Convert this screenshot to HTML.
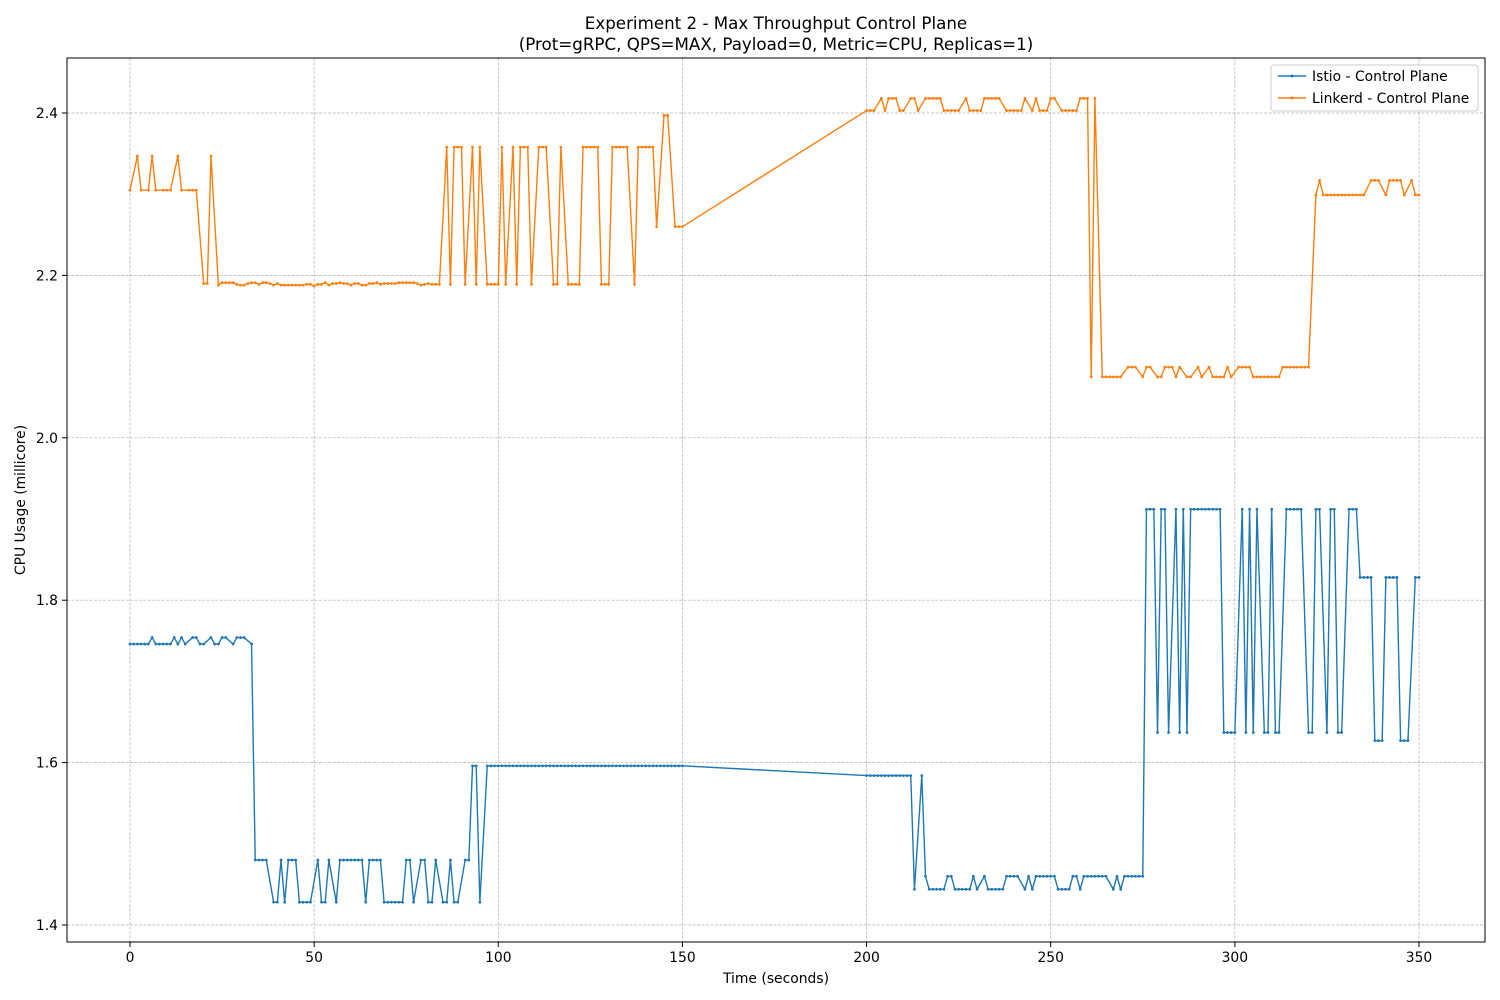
<!DOCTYPE html>
<html><head><meta charset="utf-8"><style>
html,body{margin:0;padding:0;background:#fff;}
svg{display:block;font-family:"DejaVu Sans","Liberation Sans",sans-serif;}
</style></head><body>
<svg id="chart" width="1500" height="1000" viewBox="0 0 1500 1000">
<rect x="0" y="0" width="1500" height="1000" fill="#fff"/>
<text x="776" y="29" text-anchor="middle" font-size="16.7">Experiment 2 - Max Throughput Control Plane</text>
<text x="776" y="50" text-anchor="middle" font-size="16.7">(Prot=gRPC, QPS=MAX, Payload=0, Metric=CPU, Replicas=1)</text>
<g id="grid"></g>
<g id="series"></g>
<rect x="67" y="58" width="1418" height="884" fill="none" stroke="#000" stroke-width="1"/>
<g id="ticks"></g>
<text x="776" y="983" text-anchor="middle" font-size="13.9">Time (seconds)</text>
<text x="25" y="500" text-anchor="middle" font-size="13.9" transform="rotate(-90 25 500)">CPU Usage (millicore)</text>
<g>
<rect x="1271" y="65" width="207" height="46" rx="3" fill="#fff" fill-opacity="0.8" stroke="#ccc"/>
<g>
<line x1="1278" y1="76" x2="1306" y2="76" stroke="#1f77b4" stroke-width="1.4"/><circle cx="1292" cy="76" r="1.5" fill="#1f77b4"/>
<text x="1312" y="81" font-size="13.9">Istio - Control Plane</text></g>
<g>
<line x1="1278" y1="98" x2="1306" y2="98" stroke="#ff7f0e" stroke-width="1.4"/><circle cx="1292" cy="98" r="1.5" fill="#ff7f0e"/>
<text x="1312" y="103" font-size="13.9">Linkerd - Control Plane</text></g>
</g>
</svg>
<script>
const xTicks = [0,50,100,150,200,250,300,350];
const yTicks = [1.4,1.6,1.8,2.0,2.2,2.4];
const yTickLabels = ["1.4","1.6","1.8","2.0","2.2","2.4"];

const istioT = [
0,1,2,3,4,5,6,7,8,9,10,11,12,13,14,15,17,18,19,20,22,23,24,25,26,28,29,30,31,33,
34,35,36,37,39,40,41,42,43,44,45,46,47,48,49,51,52,53,54,56,57,58,59,60,61,62,63,64,65,66,67,68,69,70,71,72,73,74,75,76,77,79,80,81,82,83,85,86,87,88,89,91,92,93,94,95,
97,98,99,100,101,102,103,104,105,106,107,108,109,110,111,112,113,114,115,116,117,118,119,120,121,122,123,124,125,126,127,128,129,130,131,132,133,134,135,136,137,138,139,140,141,142,143,144,145,146,147,148,149,150,
200,201,202,203,204,205,206,207,208,209,210,211,212,213,215,216,217,218,219,220,221,222,223,224,225,226,227,228,229,230,232,233,234,235,236,237,238,239,240,241,243,244,245,246,247,248,249,250,251,252,253,254,255,256,257,258,259,260,261,262,263,264,265,267,268,269,270,271,272,273,274,275,
276,277,278,279,280,281,282,284,285,286,287,288,289,290,291,292,293,294,295,296,297,298,299,300,302,303,304,305,306,308,309,310,311,312,314,315,316,317,318,320,321,322,323,325,326,327,328,329,331,332,333,334,335,336,337,338,339,340,341,342,343,344,345,346,347,349,350];
const istioV = [
1.746,1.746,1.746,1.746,1.746,1.746,1.754,1.746,1.746,1.746,1.746,1.746,1.754,1.746,1.754,1.746,1.754,1.754,1.746,1.746,1.754,1.746,1.746,1.754,1.754,1.746,1.754,1.754,1.754,1.746,
1.48,1.48,1.48,1.48,1.428,1.428,1.48,1.428,1.48,1.48,1.48,1.428,1.428,1.428,1.428,1.48,1.428,1.428,1.48,1.428,1.48,1.48,1.48,1.48,1.48,1.48,1.48,1.428,1.48,1.48,1.48,1.48,1.428,1.428,1.428,1.428,1.428,1.428,1.48,1.48,1.428,1.48,1.48,1.428,1.428,1.48,1.428,1.428,1.48,1.428,1.428,1.48,1.48,1.596,1.596,1.428,
1.596,1.596,1.596,1.596,1.596,1.596,1.596,1.596,1.596,1.596,1.596,1.596,1.596,1.596,1.596,1.596,1.596,1.596,1.596,1.596,1.596,1.596,1.596,1.596,1.596,1.596,1.596,1.596,1.596,1.596,1.596,1.596,1.596,1.596,1.596,1.596,1.596,1.596,1.596,1.596,1.596,1.596,1.596,1.596,1.596,1.596,1.596,1.596,1.596,1.596,1.596,1.596,1.596,1.596,
1.584,1.584,1.584,1.584,1.584,1.584,1.584,1.584,1.584,1.584,1.584,1.584,1.584,1.444,1.584,1.46,1.444,1.444,1.444,1.444,1.444,1.46,1.46,1.444,1.444,1.444,1.444,1.444,1.46,1.444,1.46,1.444,1.444,1.444,1.444,1.444,1.46,1.46,1.46,1.46,1.444,1.46,1.444,1.46,1.46,1.46,1.46,1.46,1.46,1.444,1.444,1.444,1.444,1.46,1.46,1.444,1.46,1.46,1.46,1.46,1.46,1.46,1.46,1.444,1.46,1.444,1.46,1.46,1.46,1.46,1.46,1.46,
1.912,1.912,1.912,1.637,1.912,1.912,1.637,1.912,1.637,1.912,1.637,1.912,1.912,1.912,1.912,1.912,1.912,1.912,1.912,1.912,1.637,1.637,1.637,1.637,1.912,1.637,1.912,1.637,1.912,1.637,1.637,1.912,1.637,1.637,1.912,1.912,1.912,1.912,1.912,1.637,1.637,1.912,1.912,1.637,1.912,1.912,1.637,1.637,1.912,1.912,1.912,1.828,1.828,1.828,1.828,1.627,1.627,1.627,1.828,1.828,1.828,1.828,1.627,1.627,1.627,1.828,1.828];

const linkerdT = [
0,2,3,5,6,7,9,10,11,13,14,16,17,18,20,21,22,
24,25,26,27,28,29,30,31,32,33,34,35,36,37,38,39,40,41,42,43,44,45,46,47,48,49,50,51,52,53,54,55,56,57,58,59,60,61,62,63,64,65,66,67,68,69,70,71,72,73,74,75,76,77,78,79,80,81,82,83,84,
86,87,88,89,90,91,93,94,95,97,98,99,100,101,102,104,105,106,107,108,109,111,112,113,115,116,117,119,120,121,122,123,124,125,126,127,128,129,130,131,132,133,134,135,137,138,139,140,141,142,143,145,146,148,149,150,
200,201,202,204,205,206,207,208,209,210,212,213,214,216,217,218,219,220,221,222,223,224,225,227,228,229,230,231,232,233,234,235,236,238,239,240,241,242,243,245,246,247,248,249,250,251,253,254,255,256,257,258,259,260,261,262,
264,265,266,267,268,269,271,272,273,275,276,277,279,280,281,282,283,284,285,287,288,290,291,293,294,295,296,297,298,299,301,302,303,304,305,306,307,308,309,310,311,312,313,314,315,316,317,318,319,320,
322,323,324,325,326,327,328,329,330,331,332,333,334,335,337,338,339,341,342,343,344,345,346,348,349,350];
const linkerdV = [
2.305,2.347,2.305,2.305,2.347,2.305,2.305,2.305,2.305,2.347,2.305,2.305,2.305,2.305,2.19,2.19,2.347,
2.188,2.191,2.191,2.191,2.191,2.189,2.188,2.188,2.19,2.191,2.191,2.189,2.191,2.191,2.19,2.188,2.19,2.188,2.188,2.188,2.188,2.188,2.188,2.188,2.189,2.189,2.187,2.189,2.189,2.191,2.188,2.19,2.19,2.191,2.19,2.19,2.188,2.19,2.19,2.188,2.188,2.19,2.19,2.191,2.189,2.19,2.19,2.19,2.19,2.191,2.191,2.191,2.191,2.191,2.19,2.188,2.189,2.19,2.189,2.189,2.189,
2.358,2.189,2.358,2.358,2.358,2.189,2.358,2.189,2.358,2.189,2.189,2.189,2.189,2.358,2.189,2.358,2.189,2.358,2.358,2.358,2.189,2.358,2.358,2.358,2.189,2.189,2.358,2.189,2.189,2.189,2.189,2.358,2.358,2.358,2.358,2.358,2.189,2.189,2.189,2.358,2.358,2.358,2.358,2.358,2.189,2.358,2.358,2.358,2.358,2.358,2.26,2.397,2.397,2.26,2.26,2.26,
2.403,2.403,2.403,2.418,2.403,2.418,2.418,2.418,2.403,2.403,2.418,2.418,2.403,2.418,2.418,2.418,2.418,2.418,2.403,2.403,2.403,2.403,2.403,2.418,2.403,2.403,2.403,2.403,2.418,2.418,2.418,2.418,2.418,2.403,2.403,2.403,2.403,2.403,2.418,2.403,2.418,2.403,2.403,2.403,2.418,2.418,2.403,2.403,2.403,2.403,2.403,2.418,2.418,2.418,2.075,2.418,
2.075,2.075,2.075,2.075,2.075,2.075,2.087,2.087,2.087,2.075,2.087,2.087,2.075,2.075,2.087,2.087,2.087,2.075,2.087,2.075,2.075,2.087,2.075,2.087,2.075,2.075,2.075,2.075,2.087,2.075,2.087,2.087,2.087,2.087,2.075,2.075,2.075,2.075,2.075,2.075,2.075,2.075,2.087,2.087,2.087,2.087,2.087,2.087,2.087,2.087,
2.299,2.317,2.299,2.299,2.299,2.299,2.299,2.299,2.299,2.299,2.299,2.299,2.299,2.299,2.317,2.317,2.317,2.299,2.317,2.317,2.317,2.317,2.299,2.317,2.299,2.299];

const NS = "http://www.w3.org/2000/svg";
const X0 = 67, X1 = 1485, Y0 = 58, Y1 = 942;
function xScale(t){ return 130 + t * (1419 - 130) / 350; }
function yScale(v){ return 113 + (2.4 - v) * (925 - 113) / 1.0; }

const grid = document.getElementById('grid');
const ticks = document.getElementById('ticks');
xTicks.forEach(function(t){
  const x = xScale(t);
  const g = document.createElementNS(NS,'line');
  
  
  g.setAttribute('x1',x); g.setAttribute('x2',x); g.setAttribute('y1',Y0); g.setAttribute('y2',Y1);
  g.setAttribute('stroke','#b0b0b0'); g.setAttribute('stroke-width','0.7'); g.setAttribute('stroke-dasharray','3,1.5');
  grid.appendChild(g);
  const tk = document.createElementNS(NS,'line');
  
  
  tk.setAttribute('x1',x); tk.setAttribute('x2',x); tk.setAttribute('y1',Y1); tk.setAttribute('y2',Y1+5);
  tk.setAttribute('stroke','#000');
  ticks.appendChild(tk);
  const tx = document.createElementNS(NS,'text');
  
  
  tx.setAttribute('x',x); tx.setAttribute('y',Y1+20); tx.setAttribute('text-anchor','middle'); tx.setAttribute('font-size','13.9');
  tx.textContent = String(t);
  ticks.appendChild(tx);
});
yTicks.forEach(function(v,i){
  const y = yScale(v);
  const g = document.createElementNS(NS,'line');
  
  
  g.setAttribute('x1',X0); g.setAttribute('x2',X1); g.setAttribute('y1',y); g.setAttribute('y2',y);
  g.setAttribute('stroke','#b0b0b0'); g.setAttribute('stroke-width','0.7'); g.setAttribute('stroke-dasharray','3,1.5');
  grid.appendChild(g);
  const tk = document.createElementNS(NS,'line');
  
  
  tk.setAttribute('x1',X0-5); tk.setAttribute('x2',X0); tk.setAttribute('y1',y); tk.setAttribute('y2',y);
  tk.setAttribute('stroke','#000');
  ticks.appendChild(tk);
  const tx = document.createElementNS(NS,'text');
  
  
  tx.setAttribute('x',X0-9); tx.setAttribute('y',y+5); tx.setAttribute('text-anchor','end'); tx.setAttribute('font-size','13.9');
  tx.textContent = yTickLabels[i];
  ticks.appendChild(tx);
});

const seriesLayer = document.getElementById('series');
function drawSeries(T, V, color, name){
  const g = document.createElementNS(NS,'g');
  
  
  let d = '';
  for (let i = 0; i < T.length; i++) d += (i ? 'L' : 'M') + xScale(T[i]).toFixed(2) + ',' + yScale(V[i]).toFixed(2);
  const p = document.createElementNS(NS,'path');
  
  
  p.setAttribute('d', d); p.setAttribute('fill','none'); p.setAttribute('stroke', color);
  p.setAttribute('stroke-width','1.4'); p.setAttribute('stroke-linejoin','round');
  g.appendChild(p);
  for (let i = 0; i < T.length; i++) {
    const c = document.createElementNS(NS,'circle');
    
    
    c.setAttribute('cx', xScale(T[i]).toFixed(2)); c.setAttribute('cy', yScale(V[i]).toFixed(2));
    c.setAttribute('r','1.4'); c.setAttribute('fill', color);
    g.appendChild(c);
  }
  seriesLayer.appendChild(g);
}
drawSeries(istioT, istioV, '#1f77b4', 'istio-series');
drawSeries(linkerdT, linkerdV, '#ff7f0e', 'linkerd-series');
</script>
</body></html>
